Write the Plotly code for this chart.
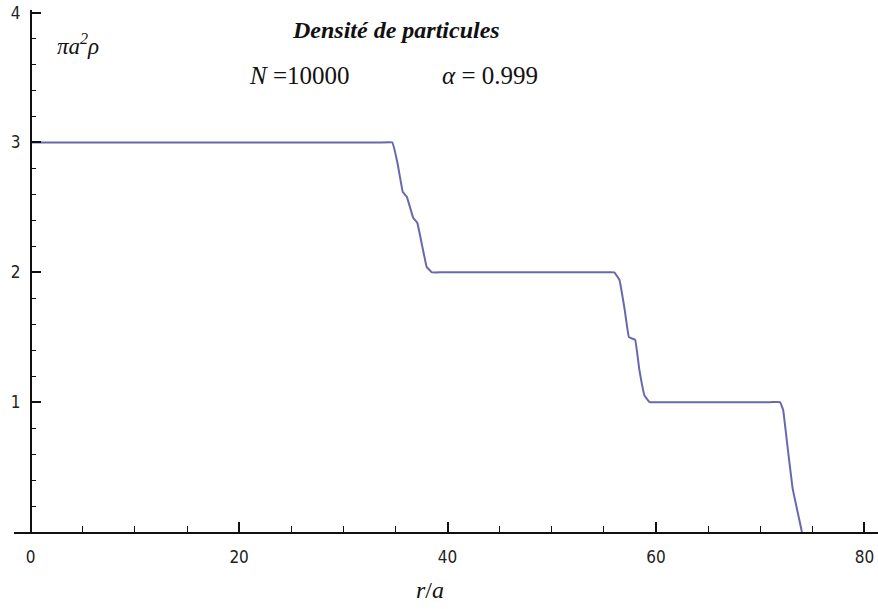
import plotly.graph_objects as go

# radial coordinate r/a and reduced density pi a^2 rho
r_over_a = [0.0, 33.5, 34.7, 35.2, 35.7, 36.1, 36.7, 37.1, 37.6, 38.0, 38.5, 39.5,
            55.0, 56.0, 56.5, 57.0, 57.4, 58.0, 58.4, 58.9, 59.4, 60.5,
            71.0, 71.9, 72.2, 72.6, 73.1, 74.0]
density = [3.0, 3.0, 3.0, 2.84, 2.62, 2.58, 2.42, 2.38, 2.19, 2.04, 2.0, 2.0,
           2.0, 2.0, 1.94, 1.71, 1.50, 1.48, 1.25, 1.05, 1.0, 1.0,
           1.0, 1.0, 0.94, 0.67, 0.34, 0.0]

x_ticks = [0, 20, 40, 60, 80]
y_ticks = [1, 2, 3, 4]

x_range = [-1.6, 81.3]
y_range = [0, 4.02]

W, H = 878, 609
M_L, M_R, M_T, M_B = 14, 0, 10, 77
PW, PH = W - M_L - M_R, H - M_T - M_B

fig = go.Figure()
fig.add_trace(go.Scatter(
    x=r_over_a, y=density, mode="lines",
    line=dict(color="rgb(104,104,172)", width=2, shape="spline", smoothing=0.2),
    showlegend=False, hoverinfo="skip",
))

tick_font = dict(family="DejaVu Sans Condensed", size=17, color="#222222")
text_font = "Liberation Serif"

# y axis sits at r/a = 0, inside the x range
y_pos = (0 - x_range[0]) / (x_range[1] - x_range[0])

fig.update_layout(
    width=W, height=H,
    margin=dict(l=M_L, r=M_R, t=M_T, b=M_B),
    paper_bgcolor="white", plot_bgcolor="white",
    xaxis=dict(
        range=x_range, tickvals=x_ticks, ticks="inside", ticklen=10,
        tickwidth=1.5, tickcolor="#111111",
        showline=True, linecolor="#111111", linewidth=1.5,
        showgrid=False, zeroline=False, tickfont=tick_font,
        minor=dict(dtick=5, tick0=0, ticks="inside", ticklen=6,
                   tickwidth=1, tickcolor="#111111", showgrid=False),
        ticklabelstandoff=9,
    ),
    yaxis=dict(
        range=y_range, tickvals=y_ticks, ticks="inside", ticklen=10,
        tickwidth=1.5, tickcolor="#111111",
        showline=True, linecolor="#111111", linewidth=1.5,
        showgrid=False, zeroline=False, tickfont=tick_font,
        anchor="free", position=y_pos,
        minor=dict(dtick=0.2, tick0=0, ticks="inside", ticklen=5,
                   tickwidth=1, tickcolor="#111111", showgrid=False),
        ticklabelstandoff=6,
    ),
)

# text labels placed by page pixel position (left/centre x, middle y)
labels = [
    ("<i>πa<sup>2</sup>ρ</i>", 55, 44, 23, "left"),
    ("<b><i>Densité de particules</i></b>", 396, 30, 24, "center"),
    ("<i>N</i> =10000", 299, 75, 25, "center"),
    ("<i>α</i> = 0.999", 490, 75, 25, "center"),
    ("<i>r</i>/<i>a</i>", 430, 590, 24, "center"),
]
for text, px, py, size, anchor in labels:
    fig.add_annotation(
        text=text, xref="paper", yref="paper",
        x=(px - M_L) / PW, y=(H - M_B - py) / PH,
        showarrow=False, xanchor=anchor, yanchor="middle",
        font=dict(family=text_font, size=size, color="#111111"),
    )

fig.write_html("out.html")
